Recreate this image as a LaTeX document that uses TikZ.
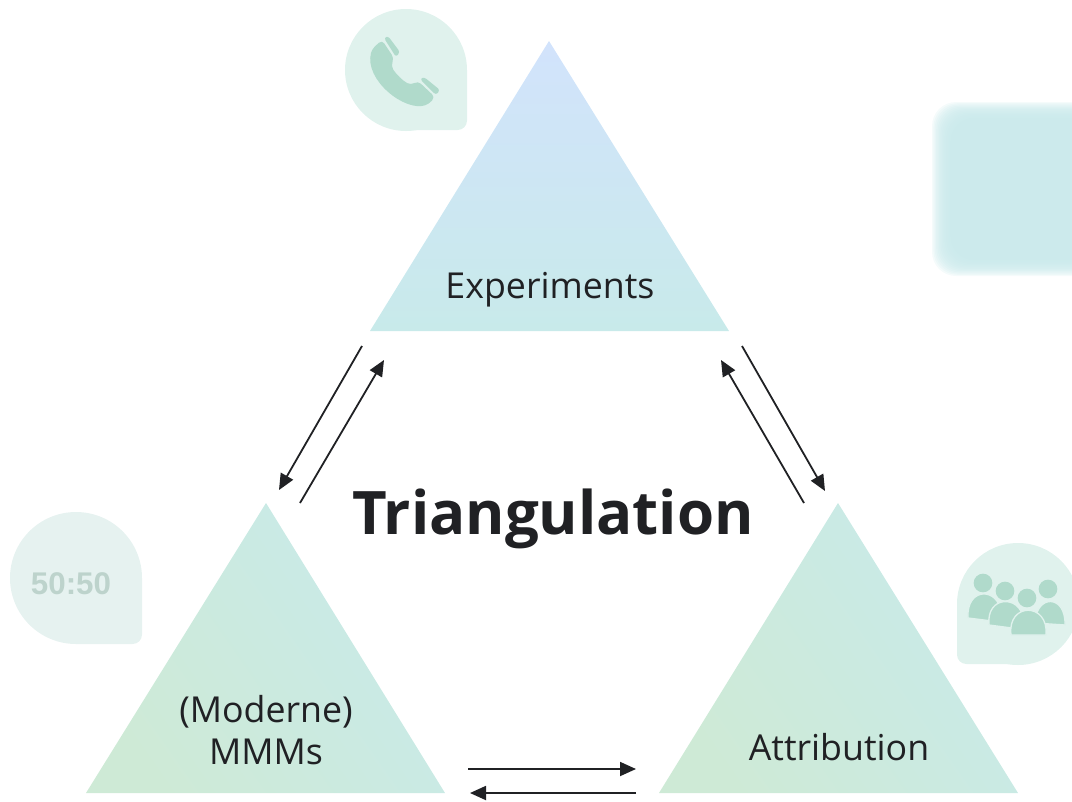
\documentclass[tikz,border=0pt]{standalone}
\usepackage{fontspec}
\setmainfont{Open Sans}
\newfontfamily\digitfont{Liberation Sans}
\usetikzlibrary{arrows.meta}

\definecolor{inkblack}{HTML}{202124}
\definecolor{skyblue}{HTML}{D2E3FC}
\definecolor{paleteal}{HTML}{C8EAEA}
\definecolor{midteal}{HTML}{C9E9E5}
\definecolor{palegreen}{HTML}{CEEAD6}
\definecolor{blobgreen}{HTML}{E0F2ED}
\definecolor{bloboff}{HTML}{E6F2F0}
\definecolor{icongreen}{HTML}{B0DACB}
\definecolor{digitgrey}{HTML}{BDD3CC}
\definecolor{blurteal}{HTML}{C9E9EB}

\tikzset{
    link/.style={draw=inkblack,line width=1.35pt,-{Stealth[inset=0pt,length=12pt,width=10.5pt]}},
    label/.style={text=inkblack,font=\fontsize{26.8}{31}\selectfont,align=center},
    person/.style={fill=icongreen,draw=blobgreen,line width=1pt},
    lowertri/.style={top color=paleteal,middle color=midteal,bottom color=palegreen,shading angle=-55}
}

\begin{document}
\begin{tikzpicture}[x=0.75pt,y=-0.75pt]
    \useasboundingbox (0,0) rectangle (1072,801);

    % Unscharfes Rechteck rechts
    \begin{scope}
        \clip (0,0) rectangle (1072,801);
        \foreach \i in {0,1,...,14} {
            \fill[blurteal,opacity=0.18,rounded corners=18pt]
                (932+\i*1.4,102+\i*1.2) rectangle (1100,276-\i*1.2);
        }
    \end{scope}

    % Blasen
    \fill[blobgreen] (406,70) circle[radius=45.75pt];
    \fill[blobgreen] (406,70) -- (467,70) [rounded corners=7pt] -- (467,130) [sharp corners] -- (406,130) -- cycle;
    \fill[bloboff] (76,578) circle[radius=49.5pt];
    \fill[bloboff] (76,578) -- (142,578) [rounded corners=7pt] -- (142,644) [sharp corners] -- (76,644) -- cycle;
    \fill[blobgreen] (1018,604) circle[radius=45.75pt];
    \fill[blobgreen] (1018,604) -- (957,604) [rounded corners=7pt] -- (957,664) [sharp corners] -- (1018,664) -- cycle;

    % Telefon
    \fill[icongreen,rounded corners=2pt] (384,38) -- (388,36) -- (400,52) -- (396,57) -- cycle;
    \fill[icongreen,rounded corners=2pt] (420,79) -- (424,77) -- (440,90) -- (436,95) -- cycle;
    \fill[icongreen,rounded corners=3pt] (382,40) -- (394,58) -- (391,66)
        .. controls (396,74) and (403,81) .. (411,85) -- (418,81) -- (435,97) -- (429,104)
        .. controls (405,112) and (364,80) .. (372,49) -- cycle;

    % Personen
    \foreach \x/\y in {983/583,1005/591,1048/589} {
        \fill[icongreen] (\x,\y) circle[radius=7pt];
    }
    \fill[person] (968,618) .. controls (966,587) and (998,587) .. (1001,612) -- (992,621) -- cycle;
    \fill[person] (1035,623) .. controls (1036,594) and (1066,594) .. (1065,625) -- cycle;
    \fill[person] (989,625) .. controls (986,595) and (1020,595) .. (1023,618) -- (1012,628) -- cycle;
    \fill[icongreen] (1027,598) circle[radius=7pt];
    \fill[person] (1011,635) .. controls (1007,602) and (1049,602) .. (1046,635) -- cycle;

    % Dreiecke
    \shade[top color=skyblue,bottom color=paleteal] (549,41) -- (729,331) -- (370,331) -- cycle;
    \shade[lowertri] (266,503) -- (445,793) -- (86,793) -- cycle;
    \shade[lowertri] (838,503) -- (1018,793) -- (659,793) -- cycle;

    % Beschriftung
    \node[label] (experiments) at (550,290) {Experiments};
    \node[label] (mmm) at (266,730) {(Moderne)\\[1pt]MMMs};
    \node[label] (attribution) at (839,747) {Attribution};
    \node[text=inkblack,font=\fontsize{45}{54}\selectfont\bfseries] (title) at (553,519) {Triangulation};
    \node[text=digitgrey,font=\digitfont\fontsize{23.5}{27}\selectfont\bfseries] (ratio) at (71,584) {50:50};

    % Enden der Pfeile
    \coordinate (topleftA) at (362,346);
    \coordinate (topleftB) at (384,360);
    \coordinate (leftA) at (279,490);
    \coordinate (leftB) at (300,503);
    \coordinate (toprightA) at (742,346);
    \coordinate (toprightB) at (721,360);
    \coordinate (rightA) at (825,491);
    \coordinate (rightB) at (804,503);
    \coordinate (bottomA) at (468,769);
    \coordinate (bottomB) at (636,769);
    \coordinate (bottomC) at (636,793);
    \coordinate (bottomD) at (470,793);

    % Pfeile
    \draw[link] (topleftA) -- (leftA);
    \draw[link] (leftB) -- (topleftB);
    \draw[link] (toprightA) -- (rightA);
    \draw[link] (rightB) -- (toprightB);
    \draw[link] (bottomA) -- (bottomB);
    \draw[link] (bottomC) -- (bottomD);
\end{tikzpicture}
\end{document}
